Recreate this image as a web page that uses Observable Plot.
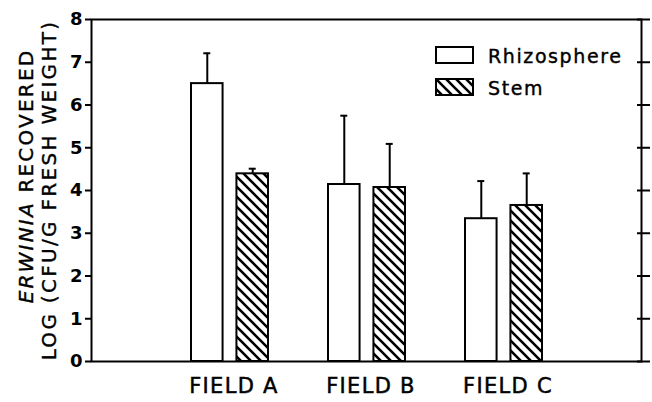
<!DOCTYPE html>
<html><head><meta charset="utf-8">
<script src="https://cdn.jsdelivr.net/npm/d3@7"></script>
<script src="https://cdn.jsdelivr.net/npm/@observablehq/plot@0.6"></script>
<style>
body{margin:0;background:#fff}
#chart{width:652px;height:402px;position:relative}
</style>
</head><body><div id="chart"></div>
<script>
// ---- data ----
const fields = ["FIELD A", "FIELD B", "FIELD C"];
const series = ["Rhizosphere", "Stem"];
const rhizosphere = [6.5, 4.14, 3.34];
const rhizosphereUpper = [7.21, 5.75, 4.22];
const stem = [4.39, 4.07, 3.65];
const stemUpper = [4.51, 5.09, 4.40];
const yTicks = [0, 1, 2, 3, 4, 5, 6, 7, 8];

const rData = fields.map((f, i) => ({field: f, value: rhizosphere[i], upper: rhizosphereUpper[i]}));
const sData = fields.map((f, i) => ({field: f, value: stem[i], upper: stemUpper[i]}));

// ---- layout ----
const W = 652, H = 402, mL = 91, mR = 11, mT = 19, mB = 41;
const pInner = 0.44, pOuter = (1 + pInner) / 2;
const step = (W - mL - mR) / (fields.length - pInner + 2 * pOuter);
const band = step * (1 - pInner);
const barW = band * 0.41;
const gapInset = band - barW;
const errDx = (barW - band) / 2;
const capW = 7;
const capNear = barW / 2 - capW / 2;
const capFar = band - capNear - capW;

const defs = () => {
  const d = d3.create("svg:defs");
  const p = d.append("pattern").attr("id", "hatch").attr("patternUnits", "userSpaceOnUse")
    .attr("width", 10).attr("height", 10);
  p.append("rect").attr("width", 10).attr("height", 10).attr("fill", "white");
  p.append("path").attr("d", "M-1,-1L11,11M-1,9L1,11M9,-1L11,1")
    .attr("stroke", "black").attr("stroke-width", 2.6);
  return d.node();
};

const plot = Plot.plot({
  width: W, height: H,
  marginLeft: mL, marginRight: mR, marginTop: mT, marginBottom: mB,
  style: {fontFamily: "DejaVu Sans", color: "black", background: "white"},
  x: {domain: fields, paddingInner: pInner, paddingOuter: pOuter, axis: null},
  y: {domain: [0, 8], axis: null},
  marks: [
    defs,
    Plot.barY(rData, {x: "field", y: "value", fill: "white", stroke: "black", strokeWidth: 2, insetRight: gapInset}),
    Plot.barY(sData, {x: "field", y: "value", fill: "url(#hatch)", stroke: "black", strokeWidth: 2, insetLeft: gapInset}),
    Plot.ruleX(rData, {x: "field", y1: "value", y2: "upper", dx: errDx, strokeWidth: 2}),
    Plot.ruleX(sData, {x: "field", y1: "value", y2: "upper", dx: -errDx, strokeWidth: 2}),
    Plot.tickY(rData, {x: "field", y: "upper", insetLeft: capNear, insetRight: capFar, strokeWidth: 2}),
    Plot.tickY(sData, {x: "field", y: "upper", insetLeft: capFar, insetRight: capNear, strokeWidth: 2}),
    Plot.frame({strokeWidth: 2}),
    Plot.axisY({anchor: "left", ticks: yTicks, tickSize: 6, tickPadding: 3, strokeWidth: 2,
      fontSize: 18, fontWeight: "bold", label: null}),
    Plot.axisY({anchor: "right", ticks: yTicks, tickSize: 13, insetRight: 5, strokeWidth: 2,
      tickFormat: () => "", label: null}),
    Plot.axisX({anchor: "bottom", tickSize: 0, tickPadding: 17, fontSize: 21, dx: 4, label: null})
  ]
});

document.getElementById("chart").appendChild(plot);
const svg = d3.select(plot);
svg.selectAll('[aria-label="x-axis tick label"] text')
  .style("letter-spacing", "1.3px").attr("stroke", "black").attr("stroke-width", 0.5);

// y-axis title (two lines)
const plotMid = (mT + (H - mB)) / 2;
const t1 = svg.append("text").attr("transform", `translate(33,${plotMid - 14}) rotate(-90)`)
  .attr("text-anchor", "middle").attr("font-size", 20).attr("letter-spacing", "2.2px")
  .attr("fill", "black").attr("stroke", "black").attr("stroke-width", 0.4);
t1.append("tspan").attr("font-style", "italic").text("ERWINIA");
t1.append("tspan").text(" RECOVERED");
svg.append("text").attr("transform", `translate(56,${plotMid}) rotate(-90)`)
  .attr("text-anchor", "middle").attr("font-size", 20).attr("letter-spacing", "2.3px")
  .attr("fill", "black").attr("stroke", "black").attr("stroke-width", 0.4)
  .text("LOG (CFU/G FRESH WEIGHT)");

// legend
const lg = svg.append("g").attr("transform", "translate(436,47)");
const fills = ["white", "url(#hatch)"];
series.forEach((s, i) => {
  const g = lg.append("g").attr("transform", `translate(0,${i * 32})`);
  g.append("rect").attr("width", 37).attr("height", 16).attr("fill", fills[i])
    .attr("stroke", "black").attr("stroke-width", 2);
  g.append("text").attr("x", 52).attr("y", 9).attr("dy", "0.36em").attr("text-anchor", "start")
    .attr("font-size", 19).attr("letter-spacing", "1.6px")
    .attr("fill", "black").attr("stroke", "black").attr("stroke-width", 0.4).text(s);
});
</script>
</body></html>
